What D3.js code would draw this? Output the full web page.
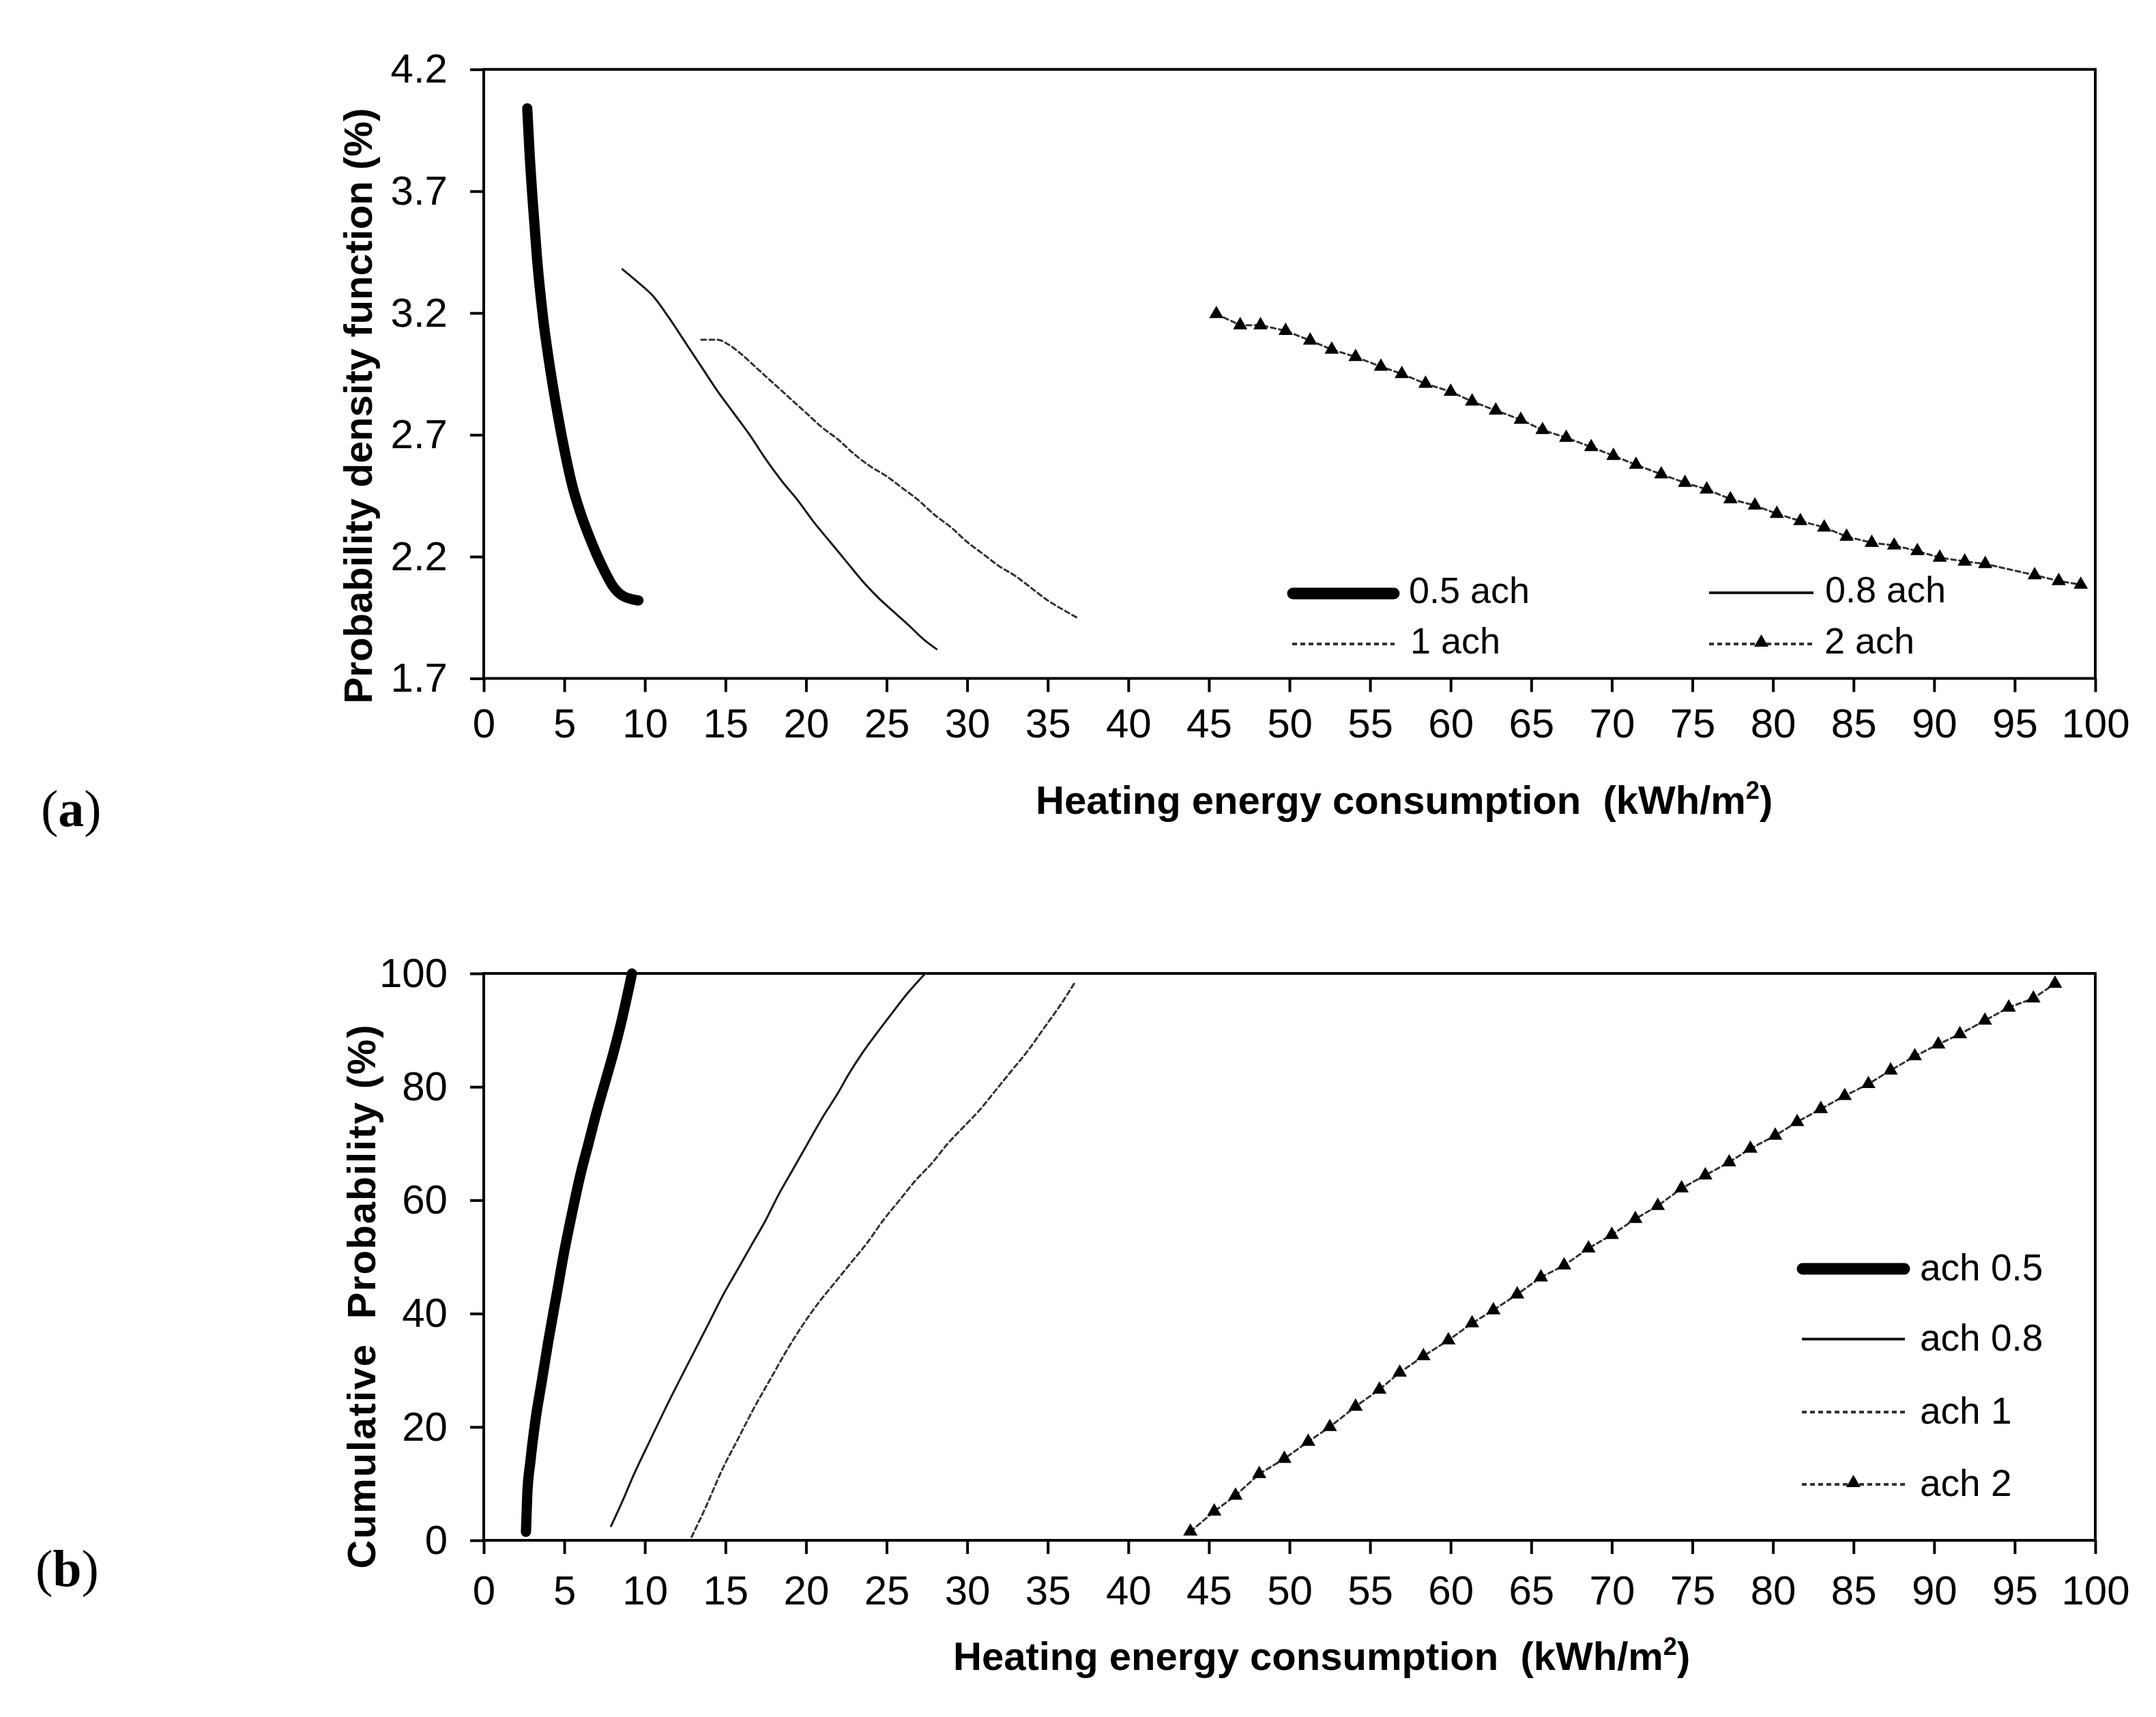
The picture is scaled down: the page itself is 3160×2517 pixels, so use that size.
<!DOCTYPE html>
<html lang="en">
<head>
<meta charset="UTF-8" />
<title>Heating energy consumption - PDF and CDF</title>
<script src="https://d3js.org/d3.v7.min.js"></script>
<style>
  body { margin: 0; background: #fff; }
</style>
</head>
<body>
<div id="chart"></div>
<script>
// (a) probability density (%) against heating energy (kWh/m2)
var pdf05 = [[2.7,4.04],[2.85,3.85],[3.05,3.65],[3.3,3.43],[3.7,3.17],[4.1,2.98],[4.6,2.78],[5.0,2.64],
  [5.5,2.49],[6.0,2.38],[6.5,2.29],[7.0,2.21],[7.5,2.14],[8.0,2.08],[8.6,2.04],[9.6,2.02]];
var pdf08 = [[8.6,3.38],[9.5,3.33],[10.5,3.27],[11.5,3.18],[12.5,3.08],[13.5,2.98],[14.5,2.88],[15.5,2.79],
  [16.5,2.70],[17.5,2.60],[18.5,2.51],[19.5,2.43],[20.5,2.34],[21.5,2.26],[22.5,2.18],[23.5,2.10],
  [24.5,2.03],[25.5,1.97],[26.5,1.91],[27.3,1.86],[28.1,1.82]];
var pdf1 = [[13.5,3.09],[14.5,3.09],[15.2,3.07],[16.0,3.03],[17.0,2.97],[18.0,2.91],[19.0,2.85],[20.0,2.79],
  [21.0,2.73],[22.0,2.68],[23.0,2.62],[24.0,2.57],[25.0,2.53],[26.0,2.48],[27.0,2.43],[28.0,2.37],
  [29.0,2.32],[30.0,2.26],[31.0,2.21],[32.0,2.16],[33.0,2.12],[34.0,2.07],[35.0,2.02],[36.0,1.98],[36.8,1.95]];
var pdf2 = [[45.46,3.196],[46.94,3.15],[48.2,3.15],[49.76,3.127],[51.28,3.087],[52.62,3.05],[54.1,3.02],
  [55.67,2.98],[56.97,2.95],[58.44,2.91],[60.0,2.877],[61.33,2.837],[62.8,2.80],[64.35,2.762],[65.7,2.72],
  [67.17,2.688],[68.72,2.65],[70.1,2.614],[71.5,2.577],[73.07,2.538],[74.54,2.503],[75.89,2.476],
  [77.36,2.436],[78.88,2.41],[80.24,2.376],[81.7,2.346],[83.18,2.32],[84.57,2.282],[86.13,2.257],
  [87.52,2.246],[88.96,2.223],[90.35,2.196],[91.9,2.18],[93.17,2.17],[96.24,2.124],[97.73,2.10],[99.1,2.085]];

// (b) cumulative probability (%) against heating energy (kWh/m2)
var cdf05 = [[2.62,1.5],[2.7,8],[2.9,14],[3.2,21],[3.6,28],[4.0,35],[4.5,43],[5.0,51],[5.5,58],[6.0,64.5],
  [6.5,70],[7.0,75.5],[7.5,80.5],[8.0,85.5],[8.5,91],[9.2,100]];
var cdf08 = [[7.9,2.5],[8.7,7.5],[9.3,11.5],[10.3,17.5],[11.4,24],[12.2,28.5],[13.1,33.5],[14.0,38.5],
  [14.8,43],[15.7,47.5],[16.6,52],[17.5,56.5],[18.3,61],[19.2,65.5],[20.0,69.5],[21.0,74.5],[22.0,79],
  [22.6,82],[23.5,86],[24.4,89.5],[25.2,92.5],[26.3,96.5],[27.4,100]];
var cdf1 = [[12.9,0.6],[13.8,6],[14.8,12.5],[15.8,18],[16.8,23.5],[17.8,28.5],[18.8,33.5],[19.8,38],
  [20.8,42],[21.8,45.5],[22.8,49],[23.8,52.5],[24.8,56.5],[25.8,60],[26.8,63.5],[27.8,66.5],[28.8,70],
  [29.8,73],[30.8,76],[31.8,79.5],[32.8,83],[33.8,86.5],[34.8,90.5],[35.8,94.5],[36.7,98.5]];
var cdf2 = [[43.85,1.56],[45.33,5.1],[46.65,7.9],[48.12,11.7],[49.68,14.4],[51.16,17.4],[52.5,20.0],
  [54.1,23.6],[55.58,26.6],[56.84,29.6],[58.31,32.5],[59.86,35.3],[61.33,38.3],[62.65,40.6],[64.13,43.4],
  [65.6,46.4],[67.04,48.5],[68.55,51.5],[70.0,53.9],[71.46,56.7],[72.85,59.0],[74.33,62.1],[75.8,64.4],
  [77.28,66.7],[78.6,69.1],[80.14,71.4],[81.5,73.8],[82.97,76.1],[84.45,78.4],[85.92,80.5],[87.3,82.9],
  [88.8,85.4],[90.26,87.5],[91.6,89.3],[93.15,91.7],[94.63,94.0],[96.16,95.6],[97.5,98.2]];

var xTicks = [0,5,10,15,20,25,30,35,40,45,50,55,60,65,70,75,80,85,90,95,100];
var yTicksA = [1.7,2.2,2.7,3.2,3.7,4.2];
var yTicksB = [0,20,40,60,80,100];
var legendA = ["0.5 ach","0.8 ach","1 ach","2 ach"];
var legendB = ["ach 0.5","ach 0.8","ach 1","ach 2"];

var width = 3160, height = 2517;
var sans = "'Liberation Sans', Arial, sans-serif";
var serif = "'Liberation Serif', 'Times New Roman', serif";

// line look for each series, same order as the legends
var looks = [
  { w: 15, dash: null, color: "#000" },
  { w: 3, dash: null, color: "#1a1a1a" },
  { w: 3, dash: "7,5", color: "#333" },
  { w: 3, dash: "7,5", color: "#333", marker: true }
];

var svg = d3.select("#chart").append("svg")
  .attr("width", width)
  .attr("height", height);
svg.append("rect").attr("width", width).attr("height", height).attr("fill", "#fff");

var x = d3.scaleLinear().domain([0, 100]).range([709, 3071]);
var tri = d3.symbol(d3.symbolTriangle, 190);

function drawPanel(p) {
  var y = d3.scaleLinear().domain(p.yDomain).range([p.bottom, p.top]);
  var g = svg.append("g");

  var xa = g.append("g")
    .attr("transform", "translate(0," + p.bottom + ")")
    .call(d3.axisBottom(x).tickValues(xTicks).tickSize(20).tickSizeOuter(0).tickPadding(p.xPad));
  xa.attr("font-family", sans).attr("font-size", 60);
  xa.select(".domain").remove();
  xa.selectAll(".tick line").attr("stroke", "#000").attr("stroke-width", 4);
  xa.selectAll(".tick text").attr("fill", "#000");

  var ya = g.append("g")
    .attr("transform", "translate(709,0)")
    .call(d3.axisLeft(y).tickValues(p.yTicks).tickFormat(p.fmt).tickSize(20).tickSizeOuter(0).tickPadding(33));
  ya.attr("font-family", sans).attr("font-size", 60);
  ya.select(".domain").remove();
  ya.selectAll(".tick line").attr("stroke", "#000").attr("stroke-width", 4);
  ya.selectAll(".tick text").attr("fill", "#000").attr("dy", "0.32em");

  // frame around the plot area
  g.append("rect")
    .attr("x", x(0)).attr("y", p.top)
    .attr("width", x(100) - x(0)).attr("height", p.bottom - p.top)
    .attr("fill", "none").attr("stroke", "#000").attr("stroke-width", 4);

  var line = d3.line()
    .x(function (d) { return x(d[0]); })
    .y(function (d) { return y(d[1]); });

  p.series.forEach(function (s, i) {
    var lk = looks[i];
    g.append("path")
      .datum(s)
      .attr("fill", "none")
      .attr("stroke", lk.color)
      .attr("stroke-width", lk.w)
      .attr("stroke-linecap", "round")
      .attr("stroke-linejoin", "round")
      .attr("stroke-dasharray", lk.dash)
      .attr("d", line.curve(lk.marker ? d3.curveLinear : d3.curveMonotoneX));
    if (lk.marker) {
      g.selectAll(null)
        .data(s)
        .join("path")
        .attr("d", tri)
        .attr("fill", "#000")
        .attr("transform", function (d) {
          return "translate(" + x(d[0]) + "," + y(d[1]) + ")";
        });
    }
  });

  // legend
  p.legend.forEach(function (lab, i) {
    var pos = p.legendPos[i];
    var lk = looks[i];
    g.append("line")
      .attr("x1", pos[0]).attr("x2", pos[1])
      .attr("y1", pos[2]).attr("y2", pos[2])
      .attr("stroke", lk.color)
      .attr("stroke-width", i === 0 ? 17 : lk.w + 1)
      .attr("stroke-linecap", i === 0 ? "round" : "butt")
      .attr("stroke-dasharray", lk.dash);
    if (lk.marker) {
      g.append("path")
        .attr("d", tri)
        .attr("transform", "translate(" + (pos[0] + pos[1]) / 2 + "," + (pos[2] - 2) + ")");
    }
    g.append("text")
      .attr("x", pos[3])
      .attr("y", pos[2] + p.legendDy)
      .attr("font-family", sans)
      .attr("font-size", p.legendSize)
      .attr("fill", "#000")
      .text(lab);
  });

  // axis titles
  var xt = g.append("text")
    .attr("x", p.xTitle[0])
    .attr("y", p.xTitle[1])
    .attr("font-family", sans)
    .attr("font-weight", "bold")
    .attr("font-size", 58)
    .attr("fill", "#000")
    .style("white-space", "pre");
  xt.append("tspan").text("Heating energy consumption  (kWh/m");
  xt.append("tspan").attr("font-size", 36).attr("dy", -22).text("2");
  xt.append("tspan").attr("dy", 22).text(")");

  g.append("text")
    .attr("transform", "translate(" + p.yTitle[0] + "," + p.yTitle[1] + ") rotate(-90)")
    .attr("text-anchor", "middle")
    .attr("font-family", sans)
    .attr("font-weight", "bold")
    .attr("font-size", 58)
    .attr("fill", "#000")
    .attr("textLength", p.yTitle[2])
    .attr("lengthAdjust", "spacing")
    .style("white-space", "pre")
    .text(p.yTitleText);

  // panel letter
  var pl = g.append("text")
    .attr("x", p.tag[0])
    .attr("y", p.tag[1])
    .attr("font-family", serif)
    .attr("font-size", 76)
    .attr("fill", "#000");
  pl.append("tspan").text("(");
  pl.append("tspan").attr("font-weight", "bold").text(p.tagLetter);
  pl.append("tspan").text(")");
}

drawPanel({
  top: 101.7, bottom: 994.5,
  yDomain: [1.7, 4.2], yTicks: yTicksA, fmt: d3.format(".1f"),
  xPad: 24,
  series: [pdf05, pdf08, pdf1, pdf2],
  legend: legendA,
  legendPos: [[1895, 2043, 870, 2065], [2505, 2658, 869, 2675], [1894, 2044, 944, 2067], [2505, 2658, 944, 2674]],
  legendDy: 14, legendSize: 54,
  xTitle: [1518, 1193],
  yTitle: [545, 595, 873], yTitleText: "Probability density function (%)",
  tag: [60, 1211], tagLetter: "a"
});

drawPanel({
  top: 1427, bottom: 2258,
  yDomain: [0, 100], yTicks: yTicksB, fmt: d3.format("d"),
  xPad: 31,
  series: [cdf05, cdf08, cdf1, cdf2],
  legend: legendB,
  legendPos: [[2642, 2791, 1860, 2814], [2641, 2792, 1963, 2814], [2641, 2792, 2070, 2814], [2641, 2792, 2176, 2814]],
  legendDy: 17, legendSize: 55,
  xTitle: [1397, 2448],
  yTitle: [550, 1901, 797], yTitleText: "Cumulative  Probability (%)",
  tag: [52, 2325], tagLetter: "b"
});
</script>
</body>
</html>
